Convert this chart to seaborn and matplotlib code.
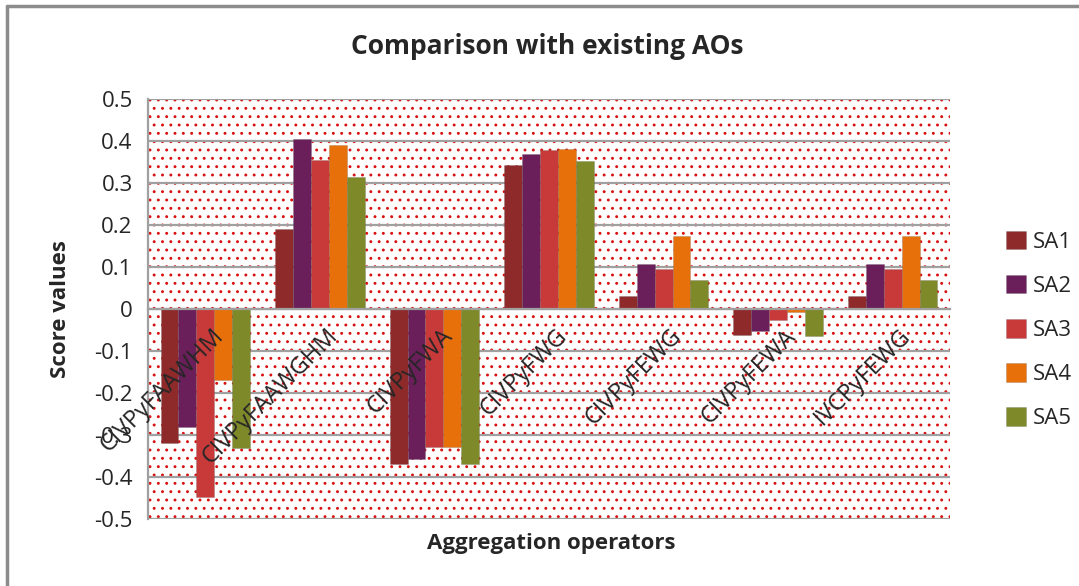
import matplotlib
matplotlib.use("Agg")
import matplotlib.pyplot as plt
import matplotlib.transforms as mtransforms
import seaborn as sns
import pandas as pd
from matplotlib.patches import Rectangle
from matplotlib.lines import Line2D

categories = ["CIVPyFAAWHM", "CIVPyFAAWGHM", "CIVPyFWA", "CIVPyFWG",
              "CIVPyFEWG", "CIVPyFEWA", "IVCPyFEWG"]
series = ["SA1", "SA2", "SA3", "SA4", "SA5"]
SA1 = [-0.32, 0.19, -0.37, 0.343, 0.03, -0.062, 0.03]
SA2 = [-0.28, 0.405, -0.357, 0.369, 0.106, -0.052, 0.106]
SA3 = [-0.447, 0.355, -0.328, 0.378, 0.095, -0.026, 0.095]
SA4 = [-0.17, 0.39, -0.328, 0.38, 0.173, -0.008, 0.173]
SA5 = [-0.33, 0.315, -0.37, 0.352, 0.07, -0.064, 0.07]
yticks = [0.5, 0.4, 0.3, 0.2, 0.1, 0, -0.1, -0.2, -0.3, -0.4, -0.5]
colors = ["#8f2a2a", "#6a1f5a", "#c83a3a", "#e8700a", "#7e8a2a"]

rows = []
for name, vals in zip(series, [SA1, SA2, SA3, SA4, SA5]):
    for c, v in zip(categories, vals):
        rows.append({"cat": c, "series": name, "value": v})
df = pd.DataFrame(rows)

sns.set_theme(style="white")
plt.rcParams["font.family"] = ["Open Sans", "DejaVu Sans"]
plt.rcParams["hatch.linewidth"] = 0.9

fig = plt.figure(figsize=(10.79, 5.86), dpi=100)
ax = fig.add_axes([148/1079, 1-519/586, (950-148)/1079, (519-99)/586])

# dotted red background pattern
bg = Rectangle((0, 0), 1, 1, transform=ax.transAxes, facecolor="white",
               edgecolor="#d81010", hatch="..", lw=0, zorder=0)
ax.add_patch(bg)

for t in yticks:
    ax.axhline(t, color="#a0a0a0", lw=1.6, zorder=1)

sns.barplot(data=df, x="cat", y="value", hue="series", order=categories,
            hue_order=series, palette=colors, width=0.78, gap=0,
            saturation=1, ax=ax, zorder=2, edgecolor="#55555540", linewidth=0.6)

ax.set_ylim(-0.5, 0.5)
ax.set_xlim(-0.5, len(categories) - 0.5)
ax.set_yticks(yticks)
ax.set_yticklabels([("%g" % t) for t in yticks], fontsize=16)
ax.grid(False)

for s in ["top", "right"]:
    ax.spines[s].set_visible(False)
ax.spines["left"].set_color("#a0a0a0")
ax.spines["left"].set_linewidth(1.6)
ax.spines["bottom"].set_position(("data", 0))
ax.spines["bottom"].set_color("#a0a0a0")
ax.spines["bottom"].set_linewidth(1.6)
ax.spines["bottom"].set_zorder(4)
ax.xaxis.set_zorder(5)
ax.tick_params(axis="y", direction="out", length=7, width=1.6, color="#a0a0a0", pad=4)
ax.tick_params(axis="x", length=0, pad=11)
ax.set_xticks(range(len(categories)))
ax.set_xticklabels(categories, rotation=45, ha="right", va="top",
                   rotation_mode="anchor", fontsize=17)
off = mtransforms.ScaledTranslation(6/100, 0, fig.dpi_scale_trans)
for lab in ax.get_xticklabels():
    lab.set_transform(lab.get_transform() + off)
ax.set_xlabel("")
ax.set_ylabel("")

fig.text(60/1079, (1 - 309/586), "Score values", rotation=90, fontsize=16,
         fontweight="bold", ha="center", va="center")
fig.text(551/1079, 1 - 543/586, "Aggregation operators", fontsize=16,
         fontweight="bold", ha="center", va="center")
fig.text(547/1079, 1 - 47/586, "Comparison with existing AOs", fontsize=19,
         fontweight="bold", ha="center", va="center")

leg = ax.legend(loc="center left", bbox_to_anchor=(1.045, 0.45), frameon=False,
                fontsize=16, handlelength=0.9, handleheight=0.9,
                labelspacing=1.0, handletextpad=0.3)

# outer frame
fig.add_artist(Line2D([7/1079, 7/1079], [0, 1 - 6/586], color="#8c8c8c", lw=2.5,
                      transform=fig.transFigure))
fig.add_artist(Line2D([7/1079, 1], [1 - 6/586, 1 - 6/586], color="#8c8c8c", lw=2.5,
                      transform=fig.transFigure))

fig.savefig("out.png", dpi=100)
